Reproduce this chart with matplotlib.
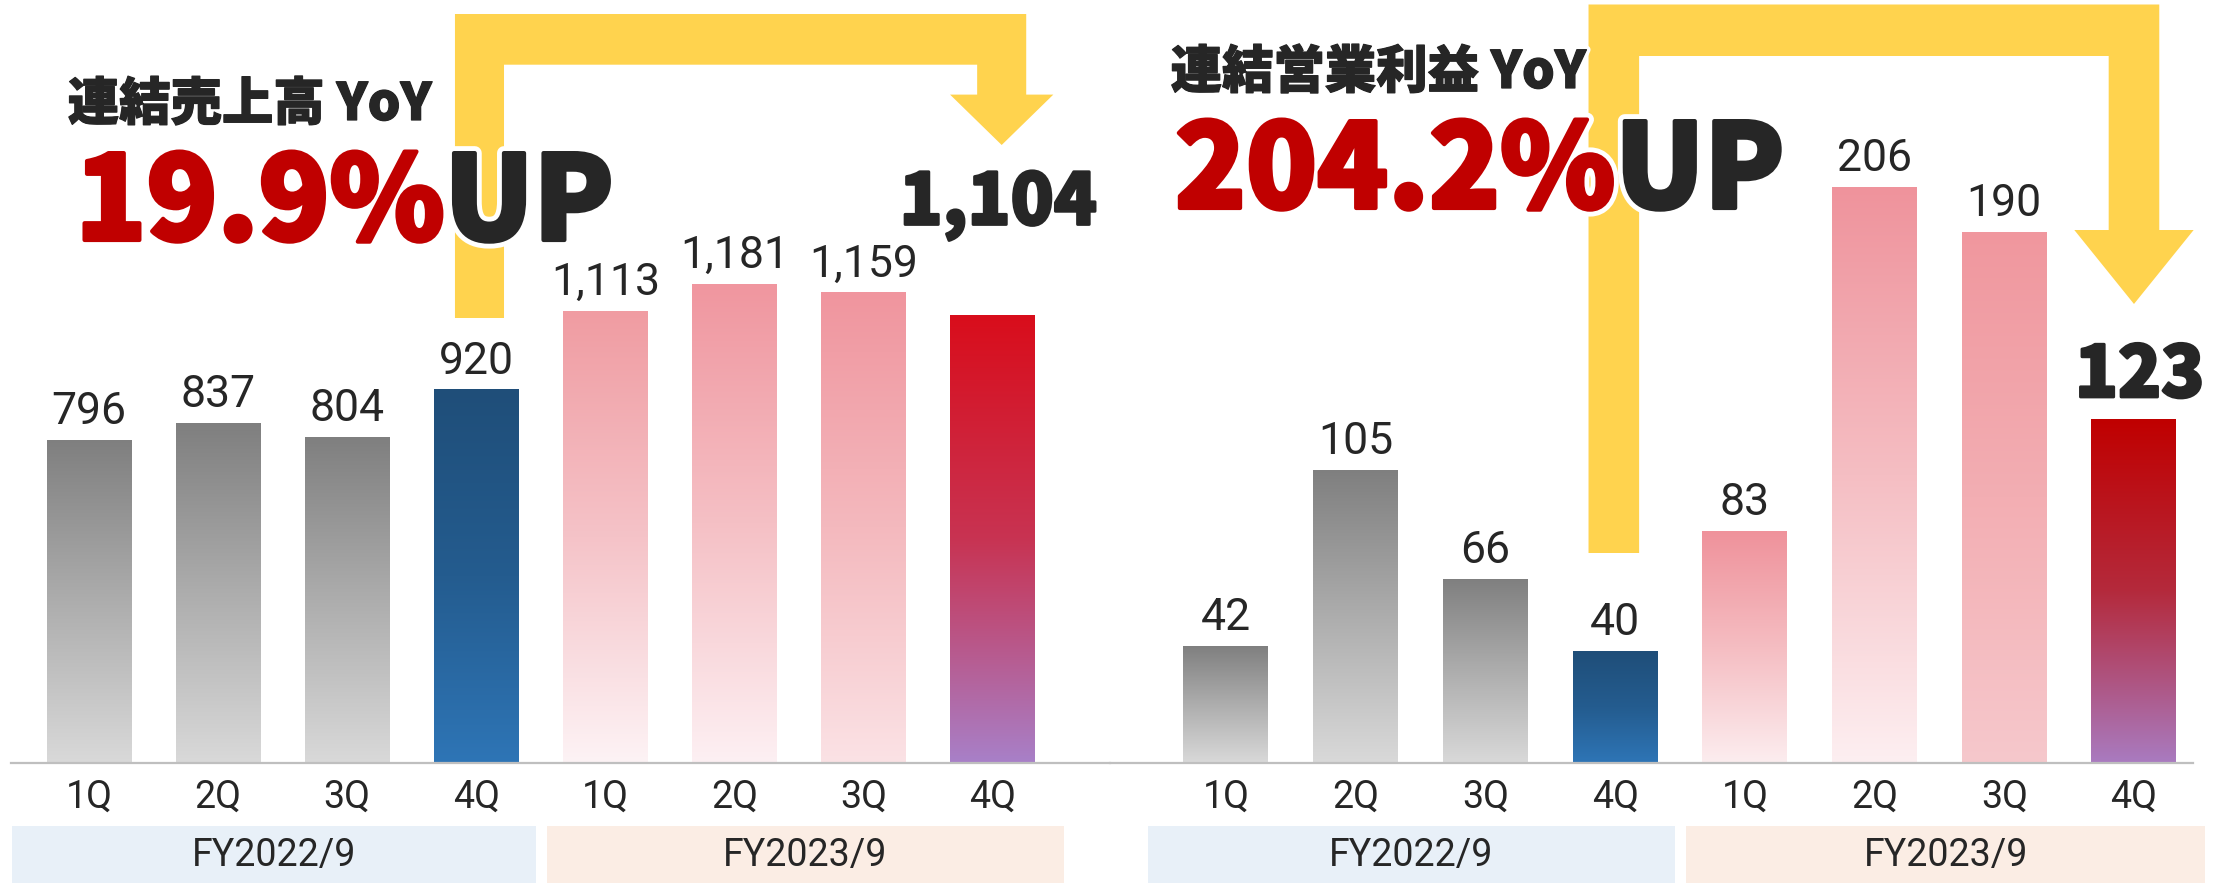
import matplotlib
matplotlib.use("Agg")
import matplotlib.pyplot as plt
import matplotlib.patheffects as pe
import numpy as np
from matplotlib.colors import to_rgb
from matplotlib.patches import Polygon, Rectangle

plt.rcParams["font.family"] = ["Roboto", "Noto Sans CJK JP", "DejaVu Sans"]

quarters = ["1Q", "2Q", "3Q", "4Q", "1Q", "2Q", "3Q", "4Q"]
fiscal_years = ["FY2022/9", "FY2023/9"]
sales = [796, 837, 804, 920, 1113, 1181, 1159, 1104]
op_income = [42, 105, 66, 40, 83, 206, 190, 123]
sales_title = "連結売上高 YoY"
op_title = "連結営業利益 YoY"
sales_yoy = 19.9
op_yoy = 204.2

DARK = "#262626"
RED = "#C00000"
YELLOW = "#FFD34E"
GRAY = ("#7F7F7F", "#ADADAD", "#D9D9D9")
BLUE = ("#1F4E79", "#245C8F", "#2E75B6")

left_grads = [GRAY, GRAY, GRAY, BLUE,
              ("#F09CA2", "#F5C3C8", "#FDF3F5"),
              ("#F0969F", "#F5C0C5", "#FDF0F3"),
              ("#F0959E", "#F4B9BE", "#FBE2E5"),
              ("#D90D1B", "#C83352", "#A880C8")]
right_grads = [GRAY, GRAY, GRAY, BLUE,
               ("#EF929B", "#F5BDC2", "#FCEDEF"),
               ("#EF939C", "#F5BEC3", "#FDEFF1"),
               ("#F0979E", "#F3AEB3", "#F6C8CC"),
               ("#C00000", "#B42A3C", "#A97BC0")]

W, H, DPI = 2213, 883, 100
BASE = 763  # baseline pixel row from top
JP = ["Noto Sans CJK JP"]


def heavy(color, white=7, thick=2.5):
    # white halo plus a same-colour stroke to make the glyphs heavier
    return [pe.withStroke(linewidth=white + thick, foreground="white"),
            pe.withStroke(linewidth=thick, foreground=color)]


def gradient_bar(ax, bar, stops):
    x0, y0 = bar.get_xy()
    w, h = bar.get_width(), bar.get_height()
    cols = np.array([to_rgb(c) for c in stops])
    t = np.linspace(0, 1, 256)
    pos = np.linspace(0, 1, len(stops))
    rgb = np.stack([np.interp(t, pos, cols[:, k]) for k in range(3)], axis=1)
    img = ax.imshow(rgb[::-1, None, :], extent=[x0, x0 + w, y0, y0 + h], origin="lower",
                    aspect="auto", zorder=2, interpolation="bilinear")
    img.set_clip_path(bar)


def arrow(ax, xa, xb, hw, hh, top, band, stem_bot, head_top, tip):
    pts = [(xa - hw, stem_bot), (xa - hw, top), (xb + hw, top), (xb + hw, head_top),
           (xb + hh, head_top), (xb, tip), (xb - hh, head_top), (xb - hw, head_top),
           (xb - hw, band), (xa + hw, band), (xa + hw, stem_bot)]
    yf = [(x, 1 - y / BASE) for x, y in pts]
    ax.add_patch(Polygon(yf, closed=True, facecolor=YELLOW, edgecolor="none",
                         transform=ax.get_xaxis_transform(), clip_on=False, zorder=3))


def panel(ax, values, grads, xlim, ylim_top, title, yoy, title_pos, big_pos, last_off,
          arrow_geom):
    x = np.arange(len(values))
    bars = ax.bar(x, values, width=0.655, facecolor="none", edgecolor="none")
    for b, g in zip(bars, grads):
        gradient_bar(ax, b, g)
    for i, v in enumerate(values[:-1]):
        ax.annotate(f"{v:,}", (i, v), xytext=(0, 11.5), textcoords="offset points",
                    ha="center", va="baseline", fontsize=32, color=DARK, zorder=5)
    ax.annotate(f"{values[-1]:,}", (x[-1], values[-1]), xytext=last_off,
                textcoords="offset points", ha="center", va="baseline", fontsize=51,
                fontweight="black", family=JP, color=DARK, zorder=5,
                path_effects=heavy(DARK, white=0.1, thick=2))
    ax.set_xlim(*xlim)
    ax.set_ylim(0, ylim_top)
    ax.set_xticks(x, quarters, fontsize=27, color=DARK)
    ax.tick_params(length=0, pad=11)
    ax.set_yticks([])
    for s in ["top", "left", "right"]:
        ax.spines[s].set_visible(False)
    ax.spines["bottom"].set_color("#BFBFBF")
    ax.spines["bottom"].set_linewidth(1.6)
    tr = ax.get_xaxis_transform()
    for fy, x0, x1, col in zip(fiscal_years, [-0.6, 3.55], [3.46, 7.55],
                               ["#E8F0F8", "#FBEDE4"]):
        ax.add_patch(Rectangle((x0, 1 - 883 / BASE), x1 - x0, (883 - 826) / BASE,
                               transform=tr, facecolor=col, edgecolor="none", clip_on=False))
        ax.text((x0 + x1) / 2, 1 - 855 / BASE, fy, transform=tr, ha="center", va="center",
                fontsize=27, color=DARK)
    arrow(ax, *arrow_geom)
    ax.text(title_pos[0], title_pos[1], title, transform=ax.transAxes, fontsize=37,
            fontweight="black", family=JP, color=DARK, va="baseline",
            path_effects=heavy(DARK, white=5, thick=0.9), zorder=6)
    t1 = ax.text(big_pos[0], big_pos[1], f"{yoy}%", transform=ax.transAxes, fontsize=84,
                 fontweight="black", family=JP, color=RED, va="baseline",
                 path_effects=heavy(RED, white=7, thick=3), zorder=6)
    ax.annotate("UP", xy=(1, 0), xycoords=t1, xytext=(0, 0), textcoords="offset points",
                fontsize=84, fontweight="black", family=JP, color=DARK, va="bottom",
                ha="left", path_effects=heavy(DARK, white=7, thick=3), zorder=6)


fig = plt.figure(figsize=(W / DPI, H / DPI), dpi=DPI)
ax1 = fig.add_axes([10.6 / W, (H - BASE) / H, (1110 - 10.6) / W, BASE / H])
ax2 = fig.add_axes([1110 / W, (H - BASE) / H, (2193 - 1110) / W, BASE / H])
for a in (ax1, ax2):
    a.patch.set_alpha(0)

panel(ax1, sales, left_grads, (-0.607, 7.909), BASE / 0.406, sales_title, sales_yoy,
      (0.052, 1 - 120 / BASE), (0.059, 1 - 240 / BASE), (4, 65),
      (3.025, 7.07, 0.19, 0.40, 14, 64.7, 318, 94.6, 145))
panel(ax2, op_income, right_grads, (-0.894, 7.455), BASE / 2.795, op_title, op_yoy,
      (0.056, 1 - 88 / BASE), (0.060, 1 - 208 / BASE), (4, 16),
      (2.99, 7.0, 0.195, 0.46, 4.5, 56, 553, 230, 304))

fig.savefig("out.png", dpi=DPI)
